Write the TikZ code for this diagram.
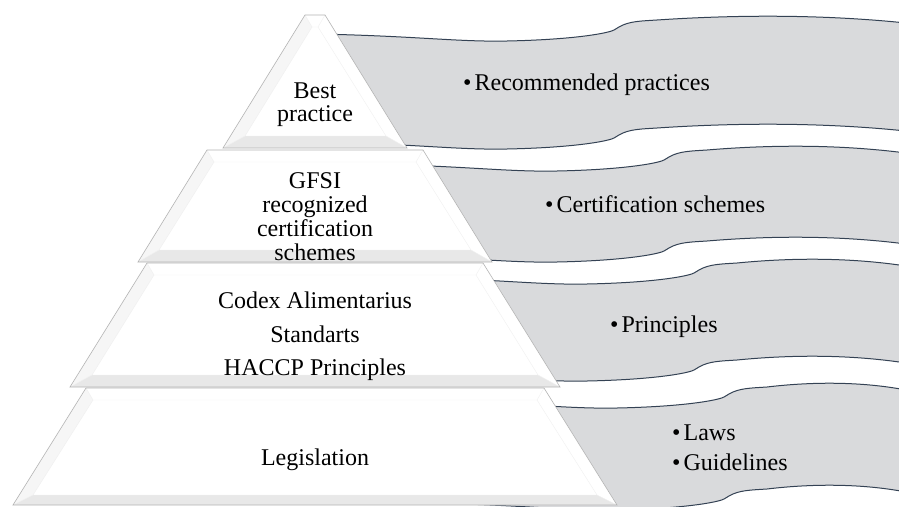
\documentclass[tikz,border=0pt]{standalone}
\usepackage{fontspec}
\setmainfont{Liberation Serif}
\usepackage{xcolor}
\usepackage{tikz}

\definecolor{ruban}{RGB}{217,218,220}
\definecolor{bordruban}{RGB}{52,66,84}
\definecolor{bordpyr}{RGB}{180,180,180}

\begin{document}
\begin{tikzpicture}[x=1pt,y=-1pt,
	txt/.style={font=\fontsize{24}{23}\selectfont,inner sep=0pt},
	ribbon/.style={fill=ruban,draw=bordruban,line width=1pt},
	tier/.style={draw=bordpyr,line width=0.6pt},
	bevel/.style={fill=gray!7},
	bevelbas/.style={fill=gray!18}]
\useasboundingbox (0,0) rectangle (899,506);
\fill[white] (0,0) rectangle (899,506);
\begin{scope}[shift={(617,30)}]% ruban du haut
	\filldraw[ribbon] (-300,4) .. controls (-200,6) and (-160,12) .. (-110,11) .. controls (-60,10) and (-25,6) .. (-9,2) .. controls (-4,1) and (-1,-1) .. (2,-3) .. controls (12,-9) and (25,-9) .. (40,-10) .. controls (115,-15) and (202,-16) .. (289,-7)
	-- (289,101) .. controls (202,92) and (115,93) .. (40,98) .. controls (25,99) and (12,99) .. (2,105) .. controls (-1,107) and (-4,109) .. (-9,110) .. controls (-25,114) and (-60,118) .. (-110,119) .. controls (-160,120) and (-200,114) .. (-300,112) -- cycle;
\end{scope}
\begin{scope}[shift={(667,160)}]% ruban 2
	\filldraw[ribbon] (-300,4) .. controls (-200,6) and (-160,12) .. (-110,11) .. controls (-60,10) and (-25,6) .. (-9,2) .. controls (-4,1) and (-1,-1) .. (2,-3) .. controls (12,-9) and (25,-9) .. (40,-10) .. controls (100,-15) and (169,-16) .. (239,-7)
	-- (239,84) .. controls (169,75) and (100,76) .. (40,81) .. controls (25,82) and (12,82) .. (2,88) .. controls (-1,90) and (-4,92) .. (-9,93) .. controls (-25,97) and (-60,101) .. (-110,102) .. controls (-160,103) and (-200,97) .. (-300,95) -- cycle;
\end{scope}
\begin{scope}[shift={(697,273)}]% ruban 3
	\filldraw[ribbon] (-300,4) .. controls (-200,6) and (-160,12) .. (-110,11) .. controls (-60,10) and (-25,6) .. (-9,2) .. controls (-4,1) and (-1,-1) .. (2,-3) .. controls (12,-9) and (25,-9) .. (40,-10) .. controls (91,-15) and (150,-16) .. (209,-7)
	-- (209,90) .. controls (150,81) and (91,82) .. (40,87) .. controls (25,88) and (12,88) .. (2,94) .. controls (-1,96) and (-4,98) .. (-9,99) .. controls (-25,103) and (-60,107) .. (-110,108) .. controls (-160,109) and (-200,103) .. (-300,101) -- cycle;
\end{scope}
\begin{scope}[shift={(727,397)}]% ruban du bas
	\filldraw[ribbon] (-300,4) .. controls (-200,6) and (-160,12) .. (-110,11) .. controls (-60,10) and (-25,6) .. (-9,2) .. controls (-4,1) and (-1,-1) .. (2,-3) .. controls (12,-9) and (25,-9) .. (40,-10) .. controls (82,-15) and (132,-16) .. (179,-7)
	-- (179,95) .. controls (132,86) and (82,87) .. (40,92) .. controls (25,93) and (12,93) .. (2,99) .. controls (-1,101) and (-4,103) .. (-9,104) .. controls (-25,108) and (-60,112) .. (-110,113) .. controls (-160,114) and (-200,108) .. (-300,106) -- cycle;
\end{scope}
\begin{scope}% etage du haut
	\coordinate (TL) at (305,15);
	\coordinate (TR) at (325,15);
	\coordinate (BR) at (407,148);
	\coordinate (BL) at (223,148);
	\coordinate (tl) at (312,27);
	\coordinate (tr) at (318,27);
	\coordinate (br) at (386,136);
	\coordinate (bl) at (245,136);
	\fill[white] (TL)--(TR)--(BR)--(BL)--cycle;
	\fill[bevel] (TL)--(tl)--(bl)--(BL)--cycle;
	\fill[bevelbas] (BL)--(bl)--(br)--(BR)--cycle;
	\draw[gray!12] (tl)--(tr)--(br)--(bl)--cycle (TL)--(tl) (TR)--(tr) (BR)--(br) (BL)--(bl);
	\draw[tier] (TL)--(TR)--(BR)--(BL)--cycle;
\end{scope}
\begin{scope}% etage 2
	\coordinate (TL) at (207,150);
	\coordinate (TR) at (423,150);
	\coordinate (BR) at (492,262);
	\coordinate (BL) at (138,262);
	\coordinate (tl) at (214,162);
	\coordinate (tr) at (416,162);
	\coordinate (br) at (471,250);
	\coordinate (bl) at (159,250);
	\fill[white] (TL)--(TR)--(BR)--(BL)--cycle;
	\fill[bevel] (TL)--(tl)--(bl)--(BL)--cycle;
	\fill[bevelbas] (BL)--(bl)--(br)--(BR)--cycle;
	\draw[gray!12] (tl)--(tr)--(br)--(bl)--cycle (TL)--(tl) (TR)--(tr) (BR)--(br) (BL)--(bl);
	\draw[tier] (TL)--(TR)--(BR)--(BL)--cycle;
\end{scope}
\begin{scope}% etage 3
	\coordinate (TL) at (147,263);
	\coordinate (TR) at (483,263);
	\coordinate (BR) at (560,387);
	\coordinate (BL) at (70,387);
	\coordinate (tl) at (154,275);
	\coordinate (tr) at (476,275);
	\coordinate (br) at (538,375);
	\coordinate (bl) at (92,375);
	\fill[white] (TL)--(TR)--(BR)--(BL)--cycle;
	\fill[bevel] (TL)--(tl)--(bl)--(BL)--cycle;
	\fill[bevelbas] (BL)--(bl)--(br)--(BR)--cycle;
	\draw[gray!12] (tl)--(tr)--(br)--(bl)--cycle (TL)--(tl) (TR)--(tr) (BR)--(br) (BL)--(bl);
	\draw[tier] (TL)--(TR)--(BR)--(BL)--cycle;
\end{scope}
\begin{scope}% etage du bas
	\coordinate (TL) at (86,388);
	\coordinate (TR) at (544,388);
	\coordinate (BR) at (617,505);
	\coordinate (BL) at (13,505);
	\coordinate (tl) at (93,400);
	\coordinate (tr) at (537,400);
	\coordinate (br) at (597,495);
	\coordinate (bl) at (33,495);
	\fill[white] (TL)--(TR)--(BR)--(BL)--cycle;
	\fill[bevel] (TL)--(tl)--(bl)--(BL)--cycle;
	\fill[bevelbas] (BL)--(bl)--(br)--(BR)--cycle;
	\draw[gray!12] (tl)--(tr)--(br)--(bl)--cycle (TL)--(tl) (TR)--(tr) (BR)--(br) (BL)--(bl);
	\draw[tier] (TL)--(TR)--(BR)--(BL)--cycle;
\end{scope}
% textes de la pyramide (base = derniere ligne)
\node[txt,align=center,anchor=base] (best) at (315,121) {Best\\practice};
\node[txt,align=center,anchor=base] (gfsi) at (315,260) {GFSI\\[1pt]recognized\\[1pt]certification\\[1pt]schemes};
\node[txt,align=center,anchor=base] (codex) at (315,375) {Codex Alimentarius\\[11pt]Standarts\\[10pt]HACCP Principles};
\node[txt,anchor=base] (legis) at (315,465) {Legislation};
% textes des rubans
\node[txt,anchor=base west] (reco) at (463,90) {\textbullet\kern3pt Recommended practices};
\node[txt,anchor=base west] (certif) at (545,212) {\textbullet\kern3pt Certification schemes};
\node[txt,anchor=base west] (princ) at (610,332) {\textbullet\kern3pt Principles};
\node[txt,align=left,anchor=base west] (laws) at (672,470) {\textbullet\kern3pt Laws\\[7pt]\textbullet\kern3pt Guidelines};
\end{tikzpicture}
\end{document}
